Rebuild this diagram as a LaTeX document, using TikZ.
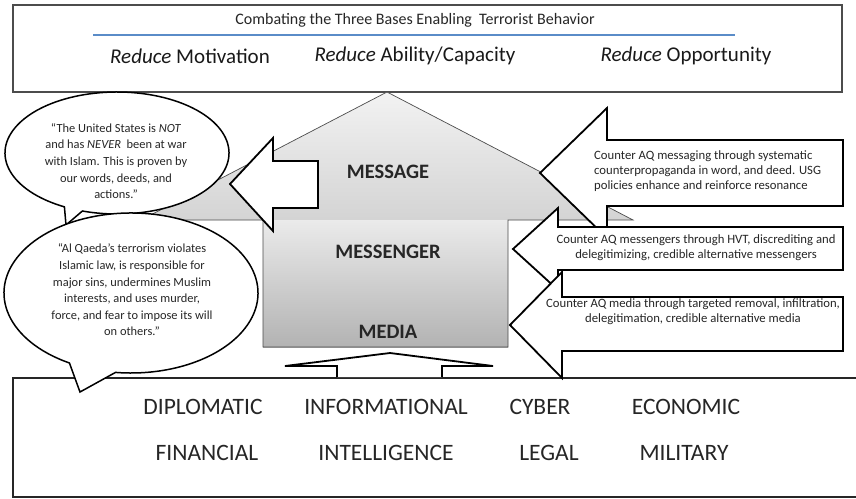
\documentclass[tikz,border=0pt]{standalone}
\usepackage{fontspec}
\setmainfont{Carlito}
\begin{document}
\begin{tikzpicture}[x=1pt,y=-1pt,
  frame/.style={draw=black!70,line width=1.2pt},
  basebox/.style={draw=black!85,line width=1.8pt},
  blk/.style={draw=black,line width=1.8pt,line join=miter,fill=white},
  bub/.style={draw=black,line width=1.5pt,fill=white,line join=miter},
  housel/.style={draw=black!70,line width=0.7pt,line join=miter},
  btxt/.style={font=\fontsize{12.4}{16.6}\selectfont,align=center,inner sep=0pt,text=black!85},
  atxt/.style={font=\fontsize{12.7}{15.2}\selectfont,inner sep=0pt,text=black!85},
  lbl/.style={font=\fontsize{20.5}{24}\selectfont\bfseries,inner sep=0pt,text=black!85},
  dime/.style={font=\fontsize{23.5}{27}\selectfont,inner sep=0pt,text=black!85},
  redu/.style={font=\fontsize{21}{25}\selectfont,inner sep=0pt,text=black!90},
]
\useasboundingbox (0,0) rectangle (856,498);
\fill[white] (0,0) rectangle (856,498);

% top box
\draw[frame] (13,5) rectangle (842,92);
\node[font=\fontsize{16}{19}\selectfont,inner sep=0pt,text=black!85] (title) at (415,20) {Combating the Three Bases Enabling\ \ Terrorist Behavior};
\coordinate (bl1) at (93,35);
\coordinate (bl2) at (735,35);
\draw[color={rgb,255:red,90;green,140;blue,200},line width=1.1pt] (bl1) -- (bl2);
\node[redu] (r1) at (190,56) {\textit{Reduce} Motivation};
\node[redu] (r2) at (415,56) {\textit{Reduce} Ability/Capacity};
\node[redu] (r3) at (686,56) {\textit{Reduce} Opportunity};

% bottom box
\draw[basebox] (13,378) rectangle (880,497);

% house
\shade[top color=black!5,bottom color=black!17] (387,92) -- (633,220) -- (141,220) -- cycle;
\shade[top color=black!8,bottom color=black!30] (263,220) rectangle (508,347);
\draw[housel] (387,92) -- (633,220) -- (508,220) -- (508,347) -- (263,347) -- (263,220) -- (141,220) -- cycle;
\node[lbl] (msg) at (388,172) {MESSAGE};
\node[lbl] (msgr) at (388,252) {MESSENGER};
\node[lbl] (med) at (388,332) {MEDIA};

% speech bubbles
\draw[bub] ([shift={(117,153)}]118:112 and 61) arc[start angle=118,end angle=468,x radius=112,y radius=61] -- (66,225) -- cycle;
\node[btxt] (q1) at (116,161) {“The United States is \textit{NOT}\\and has \textit{NEVER}\ \ been at war\\with Islam. This is proven by\\our words, deeds, and\\actions.”};
\draw[bub] ([shift={(131,293)}]119:127 and 80) arc[start angle=119,end angle=457,x radius=127,y radius=80] -- (80,392) -- cycle;
\node[btxt] (q2) at (132,290) {“Al Qaeda’s terrorism violates\\Islamic law, is responsible for\\major sins, undermines Muslim\\interests, and uses murder,\\force, and fear to impose its will\\on others.”};

% white arrow toward bubble
\draw[blk] (230,184) -- (273,138) -- (273,161) -- (318,161) -- (318,208) -- (273,208) -- (273,231) -- cycle;

% right arrows
\draw[blk] (540,173) -- (607,108) -- (607,140) -- (843,140) -- (843,206) -- (607,206) -- (607,238) -- cycle;
\node[atxt,anchor=west,align=left] (a1) at (594,171) {Counter AQ messaging through systematic\\counterpropaganda in word, and deed. USG\\policies enhance and reinforce resonance};
\draw[blk] (513,249) -- (558,208) -- (558,227) -- (843,227) -- (843,270) -- (558,270) -- (558,290) -- cycle;
\node[atxt,align=center] (a2) at (696,248) {Counter AQ messengers through HVT, discrediting and\\delegitimizing, credible alternative messengers};
\draw[blk] (510,325) -- (562,272) -- (562,297) -- (843,297) -- (843,351) -- (562,351) -- (562,378) -- cycle;
\node[atxt,align=center] (a3) at (693,312) {Counter AQ media through targeted removal, infiltration,\\delegitimation, credible alternative media};

% small up arrow
\draw[blk] (337,377) -- (337,366) -- (285,366) -- (390,353) -- (493,366) -- (442,366) -- (442,377);

% instruments
\node[dime] (d1) at (203,407) {DIPLOMATIC};
\node[dime] (d2) at (386,407) {INFORMATIONAL};
\node[dime] (d3) at (540,407) {CYBER};
\node[dime] (d4) at (686,407) {ECONOMIC};
\node[dime] (d5) at (207,453) {FINANCIAL};
\node[dime] (d6) at (386,453) {INTELLIGENCE};
\node[dime] (d7) at (549,453) {LEGAL};
\node[dime] (d8) at (684,453) {MILITARY};
\end{tikzpicture}
\end{document}
